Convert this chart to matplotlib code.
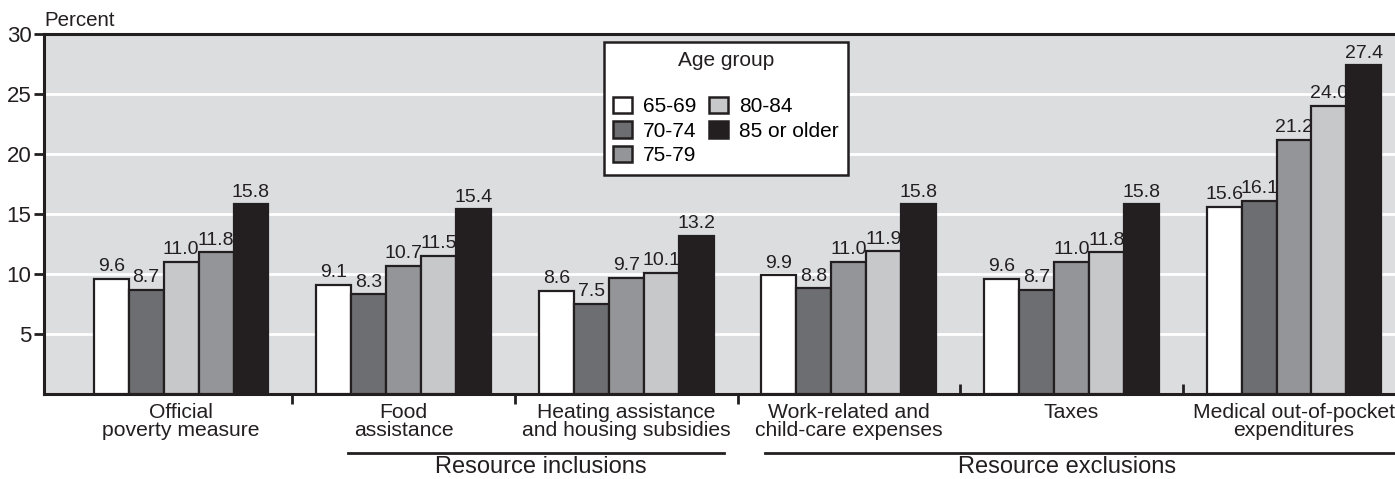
import matplotlib
matplotlib.use("Agg")
import matplotlib.pyplot as plt
import matplotlib.transforms as mtransforms
from matplotlib.patches import Patch
import numpy as np

plt.rcParams['font.family'] = ['Liberation Sans', 'DejaVu Sans']

categories = ["Official\npoverty measure", "Food\nassistance",
              "Heating assistance\nand housing subsidies",
              "Work-related and\nchild-care expenses", "Taxes",
              "Medical out-of-pocket\nexpenditures"]
age_groups = ["65-69", "70-74", "75-79", "80-84", "85 or older"]
values = {
    "65-69": [9.6, 9.1, 8.6, 9.9, 9.6, 15.6],
    "70-74": [8.7, 8.3, 7.5, 8.8, 8.7, 16.1],
    "75-79": [11.0, 10.7, 9.7, 11.0, 11.0, 21.2],
    "80-84": [11.8, 11.5, 10.1, 11.9, 11.8, 24.0],
    "85 or older": [15.8, 15.4, 13.2, 15.8, 15.8, 27.4],
}
colors = {"65-69": "#ffffff", "70-74": "#6d6e71", "75-79": "#939598",
          "80-84": "#c7c8ca", "85 or older": "#231f20"}
value_labels = {
    "65-69": ["9.6", "9.1", "8.6", "9.9", "9.6", "15.6"],
    "70-74": ["8.7", "8.3", "7.5", "8.8", "8.7", "16.1"],
    "75-79": ["11.0", "10.7", "9.7", "11.0", "11.0", "21.2"],
    "80-84": ["11.8", "11.5", "10.1", "11.9", "11.8", "24.0"],
    "85 or older": ["15.8", "15.4", "13.2", "15.8", "15.8", "27.4"],
}
yticks = [5, 10, 15, 20, 25, 30]
group_labels = ["Resource inclusions", "Resource exclusions"]

edge = "#231f20"
fig = plt.figure(figsize=(13.95, 4.79), dpi=100)
ax = fig.add_axes([44/1395, 1-394/479, 1-44/1395 + 0.001, 360/479])
ax.set_facecolor("#dcdddf")

bw = 0.157
x = np.arange(len(categories))
for j, ag in enumerate(age_groups):
    offs = (j - 2) * bw
    for i in range(len(categories)):
        c = colors[ag]
        # original chart swaps 75-79 / 80-84 shading in the first group
        if i == 0 and ag == "75-79":
            c = colors["80-84"]
        elif i == 0 and ag == "80-84":
            c = colors["75-79"]
        ax.bar(x[i] + offs, values[ag][i], width=bw, color=c,
               edgecolor=edge, linewidth=1.6, zorder=3)
        ax.text(x[i] + offs, values[ag][i] + 0.3, value_labels[ag][i],
                ha="center", va="bottom", fontsize=14, color="#231f20", zorder=4)

ax.set_ylim(0, 30)
ax.set_xlim(-0.616, 5.46)
ax.set_yticks(yticks)
ax.set_yticklabels([str(t) for t in yticks], fontsize=16)
for t in [5, 10, 15, 20, 25]:
    ax.axhline(t, color="white", linewidth=2, zorder=1)

ax.set_xticks([0.5, 1.5, 2.5])
ax.set_xticklabels([])
ax.set_xticks([3.5, 4.5], minor=True)
ax.tick_params(axis="x", which="major", direction="out", length=7, width=2, color=edge)
ax.tick_params(axis="x", which="minor", direction="in", length=7, width=2, color=edge)
ax.tick_params(axis="y", direction="out", length=7, width=2, color=edge, pad=2, labelcolor="#231f20")

for s in ["left", "bottom", "top"]:
    ax.spines[s].set_linewidth(2.2)
    ax.spines[s].set_color(edge)
ax.spines["right"].set_visible(False)

trans = mtransforms.blended_transform_factory(ax.transData, ax.transAxes)
for i, cat in enumerate(categories):
    ax.text(x[i], -0.025, cat, transform=trans, ha="center", va="top",
            fontsize=15.2, color="#231f20", linespacing=0.9)

fig.text(44/1395, 1-20/479, "Percent", ha="left", va="center", fontsize=14.8, color="#231f20")

def fx(px):
    return px / 1395
def fy(py):
    return 1 - py / 479

fig.add_artist(plt.Line2D([fx(348), fx(724)], [fy(453), fy(453)], color=edge, linewidth=2))
fig.add_artist(plt.Line2D([fx(765), fx(1395)], [fy(453), fy(453)], color=edge, linewidth=2))
fig.text(fx(541), fy(467), group_labels[0], ha="center", va="center", fontsize=17, color="#231f20")
fig.text(fx(1067), fy(467), group_labels[1], ha="center", va="center", fontsize=17, color="#231f20")

handles = [Patch(facecolor=colors[a], edgecolor=edge, linewidth=1.8, label=a) for a in age_groups]
leg = ax.legend(handles=handles, ncol=2, title="Age group", loc="upper left",
                bbox_to_anchor=((603-44)/1351, 1-(42-34)/360),
                fontsize=15, title_fontsize=15, frameon=True, fancybox=False,
                edgecolor=edge, framealpha=1, borderpad=0.45, handlelength=0.9,
                handleheight=0.85, handletextpad=0.55, columnspacing=0.6,
                labelspacing=0.24, borderaxespad=0)
leg.get_frame().set_linewidth(1.8)
leg.set_zorder(10)
leg.get_title().set_color("#231f20")
leg._legend_box.sep = 19

fig.savefig("out.png", dpi=100)
